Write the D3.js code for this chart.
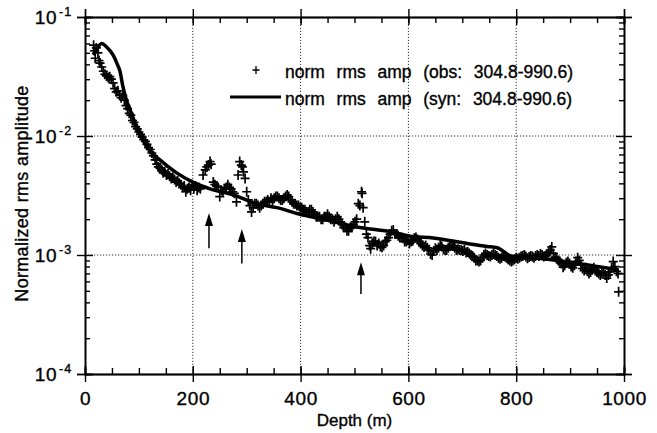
<!DOCTYPE html>
<html lang="en">
<head>
<meta charset="UTF-8">
<title>Normalized rms amplitude vs depth</title>
<script src="https://d3js.org/d3.v7.min.js"></script>
<style>
    body {
        margin: 0;
        padding: 0;
        background-color: #fff;
    }

    svg text {
        font-family: 'Liberation Sans', Arial, Helvetica, sans-serif;
        fill: #000;
        stroke: #000;
        stroke-width: 0.35px;
    }

    .axis path, .axis line {
        stroke: #000;
        stroke-width: 1.4px;
    }

    .grid line {
        stroke: #333;
        stroke-width: 1px;
        stroke-dasharray: 1.2, 1.8;
    }
</style>
</head>
<body>
<div id="chart"></div>
<script>
    const obsDepth = [16, 18, 19, 21, 24, 26, 28, 31, 34, 37, 40, 43, 46, 49, 52, 55, 58, 61, 64, 67, 70, 73, 76, 79, 82, 85, 88, 91, 94, 97,
        100, 103, 106, 109, 112, 115, 118, 121, 124, 127, 130, 133, 136, 139, 142, 145, 148, 151, 154, 157, 160, 163, 166, 169, 172, 175, 178, 181, 184, 187,
        190, 193, 196, 199, 202, 205, 208, 211, 214, 219, 223, 226, 229, 232, 234, 238, 241, 244, 247, 250, 253, 256, 259, 262, 265, 268, 271, 274, 277, 281,
        284, 287, 290, 292, 294, 297, 300, 303, 306, 309, 312, 315, 318, 321, 324, 327, 330, 333, 336, 339, 342, 345, 348, 351, 354, 357, 360, 363, 366, 369,
        372, 375, 378, 381, 384, 387, 390, 393, 396, 399, 402, 405, 408, 411, 414, 417, 420, 423, 426, 429, 432, 435, 438, 441, 444, 447, 450, 453, 456, 459,
        462, 465, 468, 471, 474, 477, 480, 483, 486, 489, 492, 495, 498, 501, 504, 507, 510, 513, 514, 516, 519, 522, 525, 528, 530, 533, 536, 539, 542, 545,
        548, 551, 554, 557, 560, 563, 566, 569, 572, 575, 578, 581, 584, 587, 590, 593, 596, 599, 602, 605, 608, 611, 614, 617, 620, 623, 626, 629, 632, 635,
        638, 641, 644, 647, 650, 653, 656, 659, 662, 665, 668, 671, 674, 677, 680, 683, 686, 689, 692, 695, 698, 701, 704, 707, 710, 713, 716, 719, 722, 725,
        728, 731, 734, 737, 740, 743, 746, 749, 752, 755, 758, 761, 764, 767, 770, 773, 776, 779, 782, 785, 788, 791, 794, 797, 800, 803, 806, 809, 812, 815,
        818, 821, 824, 827, 830, 833, 836, 839, 842, 845, 848, 851, 854, 857, 860, 863, 866, 869, 872, 875, 878, 881, 884, 887, 890, 893, 896, 899, 902, 905,
        908, 911, 914, 917, 920, 923, 926, 929, 932, 935, 938, 941, 944, 947, 950, 953, 956, 959, 962, 965, 968, 971, 974, 977, 980, 983, 986, 989, 990];
    const obsAmp = [0.058, 0.052, 0.045, 0.055, 0.05, 0.043, 0.041, 0.038, 0.035, 0.033, 0.032, 0.031, 0.0315, 0.030, 0.028, 0.025, 0.0235, 0.024, 0.022, 0.021, 0.022, 0.020, 0.018, 0.017, 0.0155, 0.015, 0.0135, 0.013, 0.012, 0.0115,
        0.0108, 0.0103, 0.0098, 0.0093, 0.009, 0.0085, 0.008, 0.0077, 0.0072, 0.0068, 0.0063, 0.0058, 0.0055, 0.0054, 0.0052, 0.0049, 0.005, 0.0047, 0.0048, 0.0046, 0.0044, 0.0045, 0.0043, 0.0041, 0.0042, 0.0040, 0.0039, 0.0037, 0.0038, 0.0034,
        0.0036, 0.0037, 0.0035, 0.0039, 0.0036, 0.0038, 0.0035, 0.0037, 0.0036, 0.0047, 0.0052, 0.0055, 0.0057, 0.0061, 0.0058, 0.0041, 0.0039, 0.0038, 0.0037, 0.0031, 0.0035, 0.0034, 0.0036, 0.0037, 0.0039, 0.0037, 0.0036, 0.0034, 0.0033, 0.0028,
        0.0047, 0.0061, 0.0057, 0.0055, 0.005, 0.0044, 0.0034, 0.0029, 0.0026, 0.0023, 0.0025, 0.0027, 0.0027, 0.0026, 0.0025, 0.0026, 0.0027, 0.0028, 0.0028, 0.0029, 0.0028, 0.003, 0.0029, 0.003, 0.0031, 0.0031, 0.003, 0.0029, 0.0029, 0.003,
        0.0031, 0.0032, 0.0031, 0.0029, 0.0028, 0.0027, 0.0027, 0.0026, 0.0026, 0.0025, 0.0025, 0.0024, 0.0024, 0.0023, 0.0023, 0.0024, 0.0024, 0.0023, 0.0022, 0.0021, 0.0021, 0.0021, 0.002, 0.002, 0.0021, 0.0021, 0.0022, 0.0021, 0.002, 0.002,
        0.0019, 0.002, 0.0021, 0.002, 0.0019, 0.0018, 0.0017, 0.0017, 0.0016, 0.0016, 0.0017, 0.0017, 0.0018, 0.0019, 0.002, 0.0027, 0.0026, 0.0034, 0.0033, 0.0025, 0.0019, 0.0015, 0.0014, 0.0012, 0.00113, 0.00125, 0.0013, 0.0013, 0.0012, 0.00125,
        0.00118, 0.00116, 0.0012, 0.0013, 0.00133, 0.0014, 0.0015, 0.0016, 0.00162, 0.0015, 0.0015, 0.00145, 0.0014, 0.0014, 0.00138, 0.0013, 0.0013, 0.00133, 0.00125, 0.0013, 0.00132, 0.00138, 0.0014, 0.00135, 0.0013, 0.00125, 0.0012, 0.00117, 0.0012, 0.00115,
        0.0011, 0.00102, 0.001, 0.00108, 0.00114, 0.0011, 0.00115, 0.0012, 0.00118, 0.00112, 0.0011, 0.0011, 0.00115, 0.0012, 0.0012, 0.0012, 0.00115, 0.0011, 0.00112, 0.0011, 0.0011, 0.00108, 0.0011, 0.00105, 0.00106, 0.00103, 0.001, 0.00098, 0.00095, 0.0009,
        0.0009, 0.00088, 0.0009, 0.00095, 0.001, 0.00103, 0.001, 0.00098, 0.00097, 0.001, 0.00102, 0.001, 0.00098, 0.00095, 0.00093, 0.00095, 0.00098, 0.00097, 0.00095, 0.00092, 0.0009, 0.00088, 0.0009, 0.00092, 0.00095, 0.00093, 0.00095, 0.00097, 0.00098, 0.001,
        0.00097, 0.00094, 0.00096, 0.00098, 0.00097, 0.00095, 0.00098, 0.001, 0.00098, 0.00102, 0.001, 0.00097, 0.00098, 0.001, 0.00105, 0.0011, 0.00117, 0.00103, 0.00096, 0.00093, 0.0009, 0.00088, 0.00085, 0.00079, 0.00082, 0.00086, 0.00088, 0.00085, 0.0008, 0.00078,
        0.00082, 0.00088, 0.00095, 0.0009, 0.00082, 0.00077, 0.00074, 0.00078, 0.00073, 0.0007, 0.00072, 0.00075, 0.00078, 0.00074, 0.00072, 0.0007, 0.00068, 0.0007, 0.00072, 0.00068, 0.00064, 0.00068, 0.00072, 0.00078, 0.00088, 0.0008, 0.00073, 0.0007, 0.00049];

    // synthetic rms amplitude (solid line)
    const synDepth = [15, 22, 31, 40, 52, 60, 65, 70, 77, 84, 98, 114, 139, 170, 200, 232, 275, 318, 356, 399, 442, 504, 566, 603, 646, 709, 746, 765, 778, 790, 850, 900, 950, 990];
    const synAmp = [0.048, 0.054, 0.060, 0.056, 0.048, 0.040, 0.0348, 0.0265, 0.020, 0.0165, 0.0112, 0.0082, 0.0063, 0.0049, 0.0041, 0.0036, 0.0032, 0.0027, 0.0025, 0.0022, 0.0020, 0.00172, 0.00157, 0.00144, 0.00139, 0.00125, 0.00118, 0.00115, 0.00106, 0.00098, 0.00093, 0.00087, 0.0008, 0.00075];

    // arrows: depth, tip amplitude, tail amplitude
    const arrowDepth = [230, 291, 512];
    const arrowTip = [0.00225, 0.00165, 0.00087];
    const arrowTail = [0.00114, 0.00085, 0.00047];

    const xMajor = [0, 200, 400, 600, 800, 1000];
    const xMinor = d3.range(0, 1001, 50);
    const yDecades = [1e-4, 1e-3, 1e-2, 1e-1];
    const yExponents = ["-4", "-3", "-2", "-1"];
    const xGrid = [200, 400, 600, 800];
    const yGrid = [1e-3, 1e-2];

    const legendLabels = ["norm  rms  amp  (obs:  304.8-990.6)", "norm  rms  amp  (syn:  304.8-990.6)"];

    const width = 657, height = 433;
    const margin = {top: 17, right: 33, bottom: 59, left: 85};

    const svg = d3.select("#chart").append("svg")
        .attr("width", width)
        .attr("height", height);

    const x = d3.scaleLinear().domain([0, 1000]).range([margin.left, width - margin.right]);
    const y = d3.scaleLog().domain([1e-4, 1e-1]).range([height - margin.bottom, margin.top]);

    const x0 = x.range()[0], x1 = x.range()[1];
    const y0 = y.range()[0], y1 = y.range()[1];

    // minor log ticks 2..9 per decade
    const yMinor = [];
    for (let d = 1e-4; d < 0.1; d *= 10) {
        for (let k = 2; k <= 9; k++) yMinor.push(d * k);
    }

    // dotted grid
    const grid = svg.append("g").attr("class", "grid");
    grid.selectAll(".gx").data(xGrid).enter().append("line")
        .attr("x1", d => x(d)).attr("x2", d => x(d))
        .attr("y1", y0).attr("y2", y1);
    grid.selectAll(".gy").data(yGrid).enter().append("line")
        .attr("x1", x0).attr("x2", x1)
        .attr("y1", d => y(d)).attr("y2", d => y(d));

    // axes: majors cross the frame, minors point inward
    function addAxis(axis, tx, ty) {
        svg.append("g").attr("class", "axis")
            .attr("transform", "translate(" + tx + "," + ty + ")")
            .call(axis);
    }

    addAxis(d3.axisBottom(x).tickValues(xMajor).tickFormat(d3.format("d")).tickSizeInner(8).tickSizeOuter(0).tickPadding(10), 0, y0);
    addAxis(d3.axisTop(x).tickValues(xMajor).tickSize(8).tickFormat(""), 0, y0);
    addAxis(d3.axisTop(x).tickValues(xMinor).tickSize(6).tickFormat(""), 0, y0);
    addAxis(d3.axisTop(x).tickValues(xMajor).tickSize(8).tickFormat(""), 0, y1);
    addAxis(d3.axisBottom(x).tickValues(xMajor).tickSize(8).tickFormat(""), 0, y1);
    addAxis(d3.axisBottom(x).tickValues(xMinor).tickSize(6).tickFormat(""), 0, y1);

    addAxis(d3.axisLeft(y).tickValues(yDecades).tickSize(8).tickFormat(""), x0, 0);
    addAxis(d3.axisRight(y).tickValues(yDecades).tickSize(8).tickFormat(""), x0, 0);
    addAxis(d3.axisRight(y).tickValues(yMinor).tickSize(5).tickFormat(""), x0, 0);
    addAxis(d3.axisRight(y).tickValues(yDecades).tickSize(8).tickFormat(""), x1, 0);
    addAxis(d3.axisLeft(y).tickValues(yDecades).tickSize(8).tickFormat(""), x1, 0);
    addAxis(d3.axisLeft(y).tickValues(yMinor).tickSize(5).tickFormat(""), x1, 0);

    svg.selectAll(".axis text")
        .style("font-size", "19px")
        .style("letter-spacing", "0.6px")
        .style("font-family", "'Liberation Sans', Arial, sans-serif");

    // y tick labels as 10 with superscript exponent
    const yLab = svg.append("g");
    yLab.selectAll(".base").data(yDecades).enter().append("text")
        .attr("x", 57).attr("y", d => y(d) + 7)
        .attr("text-anchor", "end")
        .style("font-size", "19px")
        .style("letter-spacing", "0.5px")
        .text("10");
    yLab.selectAll(".exp").data(yDecades).enter().append("text")
        .attr("x", 59).attr("y", d => y(d) - 1)
        .style("font-size", "12.5px")
        .style("letter-spacing", "1px")
        .text((d, i) => yExponents[i]);

    // axis titles
    svg.append("text")
        .attr("x", (x0 + x1) / 2).attr("y", 426)
        .attr("text-anchor", "middle")
        .style("font-size", "17px")
        .text("Depth (m)");

    svg.append("text")
        .attr("transform", "translate(28," + ((y0 + y1) / 2 - 2) + ") rotate(-90)")
        .attr("text-anchor", "middle")
        .style("font-size", "18px")
        .style("letter-spacing", "0.3px")
        .text("Normalized rms amplitude");

    // observed crosses
    const cross = "M-4.5,0H4.5M0,-5V5";
    svg.append("g").selectAll("path").data(obsDepth).enter().append("path")
        .attr("d", cross)
        .attr("transform", (d, i) => "translate(" + x(d) + "," + y(obsAmp[i]) + ")")
        .attr("stroke", "#000")
        .attr("stroke-width", 1.7)
        .attr("fill", "none");

    // synthetic line
    const line = d3.line()
        .x((d, i) => x(synDepth[i]))
        .y(d => y(d))
        .curve(d3.curveMonotoneX);
    svg.append("path")
        .datum(synAmp)
        .attr("d", line)
        .attr("fill", "none")
        .attr("stroke", "#000")
        .attr("stroke-width", 3.5)
        .attr("stroke-linejoin", "round");

    // arrows
    const arrows = svg.append("g");
    arrowDepth.forEach(function (d, i) {
        const ax = x(d), ty = y(arrowTip[i]), by = y(arrowTail[i]);
        arrows.append("line")
            .attr("x1", ax).attr("x2", ax)
            .attr("y1", ty + 8).attr("y2", by)
            .attr("stroke", "#000").attr("stroke-width", 1.5);
        arrows.append("path")
            .attr("d", "M" + ax + "," + ty + "L" + (ax - 4) + "," + (ty + 13) + "L" + (ax + 4) + "," + (ty + 13) + "Z")
            .attr("fill", "#000");
    });

    // legend
    const legend = svg.append("g");
    legend.append("path")
        .attr("d", "M-3.5,0H3.5M0,-4V4")
        .attr("transform", "translate(256,70)")
        .attr("stroke", "#000").attr("stroke-width", 1.3);
    legend.append("line")
        .attr("x1", 230).attr("x2", 281)
        .attr("y1", 97).attr("y2", 97)
        .attr("stroke", "#000").attr("stroke-width", 3);
    legend.selectAll("text").data(legendLabels).enter().append("text")
        .attr("x", 285)
        .attr("y", (d, i) => 78 + i * 27)
        .style("font-size", "17.5px")
        .style("white-space", "pre")
        .style("word-spacing", "1px")
        .text(d => d);
</script>
</body>
</html>
